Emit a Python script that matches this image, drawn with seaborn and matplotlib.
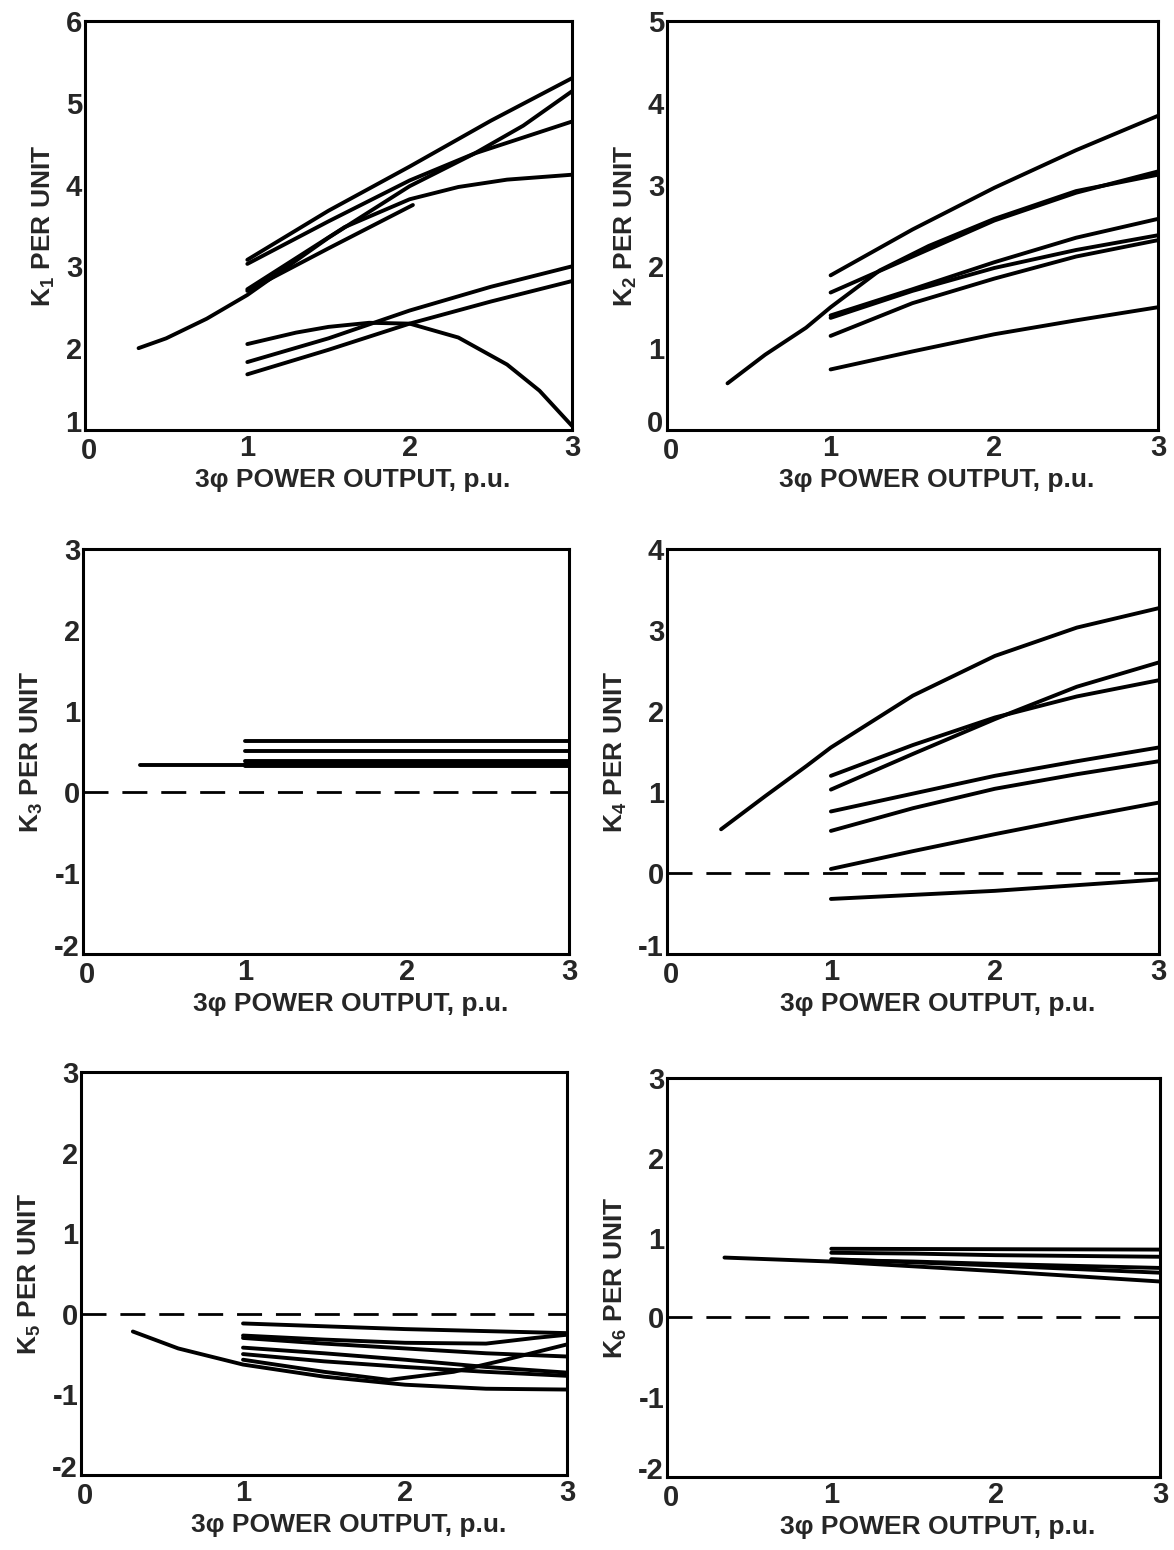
import matplotlib
matplotlib.use("Agg")
import matplotlib.pyplot as plt
import matplotlib.transforms as mtransforms
import seaborn as sns
import pandas as pd

# ---------------- data ----------------
X_TICKS = [0, 1, 2, 3]
X_LABEL = "3\u03c6 POWER OUTPUT, p.u."

# K1
k1_x = [
    [0.33, 0.5, 0.75, 1.0, 1.25, 1.5, 2.0, 2.4, 2.7, 3.0],
    [1.0, 1.5, 2.0, 2.5, 3.0],
    [1.0, 1.5, 2.0, 2.4, 3.0],
    [1.0, 1.3, 1.6, 2.0, 2.3, 2.6, 3.0],
    [1.0, 1.5, 2.02],
    [1.0, 1.3, 1.5, 1.75, 2.0, 2.3, 2.6, 2.8, 3.0],
    [1.0, 1.5, 2.0, 2.5, 3.0],
    [1.0, 1.5, 2.0, 2.5, 3.0],
]
k1_y = [
    [2.0, 2.12, 2.36, 2.65, 3.0, 3.35, 3.98, 4.38, 4.72, 5.14],
    [3.08, 3.68, 4.22, 4.78, 5.30],
    [3.03, 3.55, 4.05, 4.38, 4.77],
    [2.72, 3.1, 3.48, 3.82, 3.97, 4.06, 4.12],
    [2.70, 3.22, 3.75],
    [2.05, 2.19, 2.26, 2.31, 2.30, 2.13, 1.80, 1.48, 1.05],
    [1.83, 2.12, 2.46, 2.75, 3.0],
    [1.68, 1.98, 2.30, 2.57, 2.82],
]
k1_yticks = [1, 2, 3, 4, 5, 6]

# K2
k2_x = [
    [1.0, 1.5, 2.0, 2.5, 3.0],
    [1.0, 1.5, 2.0, 2.5, 3.0],
    [0.37, 0.6, 0.85, 1.0, 1.3, 1.6, 2.0, 2.5, 3.0],
    [1.0, 1.5, 2.0, 2.5, 3.0],
    [1.0, 1.5, 2.0, 2.5, 3.0],
    [1.0, 1.5, 2.0, 2.5, 3.0],
    [1.0, 1.5, 2.0, 2.5, 3.0],
]
k2_y = [
    [1.89, 2.45, 2.96, 3.42, 3.84],
    [1.68, 2.12, 2.56, 2.90, 3.16],
    [0.57, 0.92, 1.25, 1.50, 1.95, 2.25, 2.58, 2.92, 3.12],
    [1.40, 1.72, 2.05, 2.35, 2.58],
    [1.37, 1.70, 1.98, 2.20, 2.38],
    [1.15, 1.55, 1.85, 2.12, 2.32],
    [0.74, 0.96, 1.17, 1.34, 1.50],
]
k2_yticks = [0, 1, 2, 3, 4, 5]

# K3
k3_x = [
    [0.35, 1.0],
    [1.0, 3.0],
    [1.0, 3.0],
    [1.0, 3.0],
    [1.0, 3.0],
    [1.0, 3.0],
]
k3_y = [
    [0.33, 0.33],
    [0.63, 0.63],
    [0.51, 0.51],
    [0.38, 0.38],
    [0.35, 0.35],
    [0.32, 0.32],
]
k3_yticks = [-2, -1, 0, 1, 2, 3]

# K4
k4_x = [
    [0.33, 0.6, 0.85, 1.0, 1.5, 2.0, 2.5, 3.0],
    [1.0, 1.5, 2.0, 2.5, 3.0],
    [1.0, 1.5, 2.0, 2.5, 3.0],
    [1.0, 1.5, 2.0, 2.5, 3.0],
    [1.0, 1.5, 2.0, 2.5, 3.0],
    [1.0, 1.5, 2.0, 2.5, 3.0],
    [1.0, 1.5, 2.0, 2.5, 3.0],
]
k4_y = [
    [0.54, 0.95, 1.32, 1.55, 2.19, 2.68, 3.03, 3.27],
    [1.20, 1.58, 1.92, 2.18, 2.38],
    [1.03, 1.47, 1.90, 2.30, 2.60],
    [0.76, 0.98, 1.20, 1.38, 1.55],
    [0.52, 0.80, 1.04, 1.22, 1.38],
    [0.05, 0.27, 0.48, 0.68, 0.87],
    [-0.32, -0.27, -0.22, -0.15, -0.08],
]
k4_yticks = [-1, 0, 1, 2, 3, 4]

# K5
k5_x = [
    [0.32, 0.6, 1.0, 1.5, 2.0, 2.5, 3.0],
    [1.0, 2.0, 3.0],
    [1.0, 1.5, 2.0, 2.5, 2.8, 3.0],
    [1.0, 1.5, 2.0, 2.5, 3.0],
    [1.0, 1.5, 2.0, 2.5, 3.0],
    [1.0, 1.5, 2.0, 2.5, 3.0],
    [1.0, 1.5, 1.9, 2.3, 2.6, 3.0],
]
k5_y = [
    [-0.22, -0.43, -0.63, -0.78, -0.88, -0.93, -0.94],
    [-0.12, -0.19, -0.24],
    [-0.27, -0.32, -0.36, -0.37, -0.30, -0.26],
    [-0.30, -0.37, -0.43, -0.49, -0.53],
    [-0.42, -0.49, -0.57, -0.66, -0.73],
    [-0.50, -0.59, -0.66, -0.72, -0.77],
    [-0.57, -0.72, -0.82, -0.72, -0.58, -0.38],
]
k5_yticks = [-2, -1, 0, 1, 2, 3]

# K6
k6_x = [
    [0.35, 1.0, 2.0, 3.0],
    [1.0, 3.0],
    [1.0, 1.5, 2.0, 3.0],
    [1.0, 1.5, 2.0, 3.0],
    [1.0, 2.0, 3.0],
]
k6_y = [
    [0.75, 0.70, 0.58, 0.45],
    [0.86, 0.85],
    [0.81, 0.80, 0.78, 0.76],
    [0.72, 0.70, 0.67, 0.62],
    [0.73, 0.65, 0.56],
]
k6_yticks = [-2, -1, 0, 1, 2, 3]

# ---------------- styling ----------------
sns.set_style("white")
plt.rcParams["font.family"] = ["Liberation Sans", "DejaVu Sans"]
plt.rcParams["font.weight"] = "bold"
plt.rcParams["mathtext.fontset"] = "custom"
plt.rcParams["mathtext.rm"] = "Liberation Sans:bold"
plt.rcParams["mathtext.bf"] = "Liberation Sans:bold"
plt.rcParams["mathtext.it"] = "Liberation Sans:bold:italic"

fig = plt.figure(figsize=(11.74, 15.5), dpi=100)

panels = [
    (k1_x, k1_y, k1_yticks, r"K$_{\mathbf{1}}$ PER UNIT", False, [0.0724, 0.7226, 0.4148, 0.2639]),
    (k2_x, k2_y, k2_yticks, r"K$_{\mathbf{2}}$ PER UNIT", False, [0.5681, 0.7226, 0.4182, 0.2639]),
    (k3_x, k3_y, k3_yticks, r"K$_{\mathbf{3}}$ PER UNIT", True, [0.0707, 0.3845, 0.4140, 0.2613]),
    (k4_x, k4_y, k4_yticks, r"K$_{\mathbf{4}}$ PER UNIT", True, [0.5681, 0.3845, 0.4190, 0.2613]),
    (k5_x, k5_y, k5_yticks, r"K$_{\mathbf{5}}$ PER UNIT", True, [0.0690, 0.0484, 0.4140, 0.2600]),
    (k6_x, k6_y, k6_yticks, r"K$_{\mathbf{6}}$ PER UNIT", True, [0.5681, 0.0471, 0.4200, 0.2574]),
]

up_shift = mtransforms.ScaledTranslation(-1 / 100, 9 / 100, fig.dpi_scale_trans)
down_shift = mtransforms.ScaledTranslation(4 / 100, -3 / 100, fig.dpi_scale_trans)

for xs, ys, yticks, ylabel, zero, rect in panels:
    ax = fig.add_axes(rect)
    rows = []
    for i, (cx, cy) in enumerate(zip(xs, ys)):
        for a, b in zip(cx, cy):
            rows.append((i, a, b))
    df = pd.DataFrame(rows, columns=["curve", "x", "y"])
    sns.lineplot(data=df, x="x", y="y", units="curve", estimator=None, sort=False,
                 color="black", lw=2.8, ax=ax, legend=False, solid_capstyle="round")
    if zero:
        ax.axhline(0, color="black", lw=2.0, dashes=(9, 5))
    ax.set_xlim(X_TICKS[0], X_TICKS[-1])
    ax.set_ylim(yticks[0], yticks[-1])
    ax.set_xticks(X_TICKS)
    ax.set_yticks(yticks)
    ax.set_xticklabels([str(t) for t in X_TICKS])
    ax.set_yticklabels([str(t) for t in yticks])
    ax.tick_params(axis="y", direction="in", length=14, width=2.2, labelsize=21, pad=2)
    ax.tick_params(axis="x", direction="in", length=17, width=2.2, labelsize=21, pad=3)
    # lowest y label sits just above the corner, first x label just below/right of it
    ylab0 = ax.get_yticklabels()[0]
    ylab0.set_transform(ylab0.get_transform() + up_shift)
    xlab0 = ax.get_xticklabels()[0]
    xlab0.set_transform(xlab0.get_transform() + down_shift)
    for s in ax.spines.values():
        s.set_linewidth(2.2)
        s.set_color("black")
    ax.set_xlabel(X_LABEL, fontsize=19, fontweight="bold", labelpad=2, x=0.55)
    ax.set_ylabel(ylabel, fontsize=19, fontweight="bold", labelpad=6)

fig.savefig("out.png", dpi=100, facecolor="white")
